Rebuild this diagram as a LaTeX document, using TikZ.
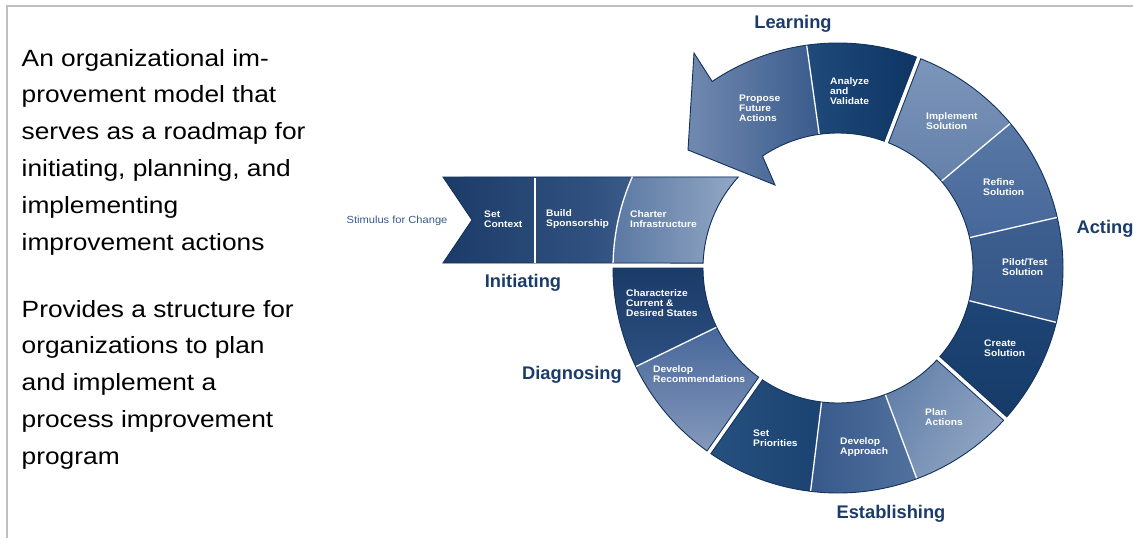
\documentclass[tikz,border=0pt]{standalone}
\usepackage{fontspec}
\setmainfont{Liberation Sans}
\newfontfamily\bodyfont{Liberation Sans}[FakeStretch=1.12]
\newfontfamily\labfont{Liberation Sans}[FakeStretch=1.08]
\definecolor{navyline}{HTML}{12315C}
\definecolor{phasecol}{HTML}{1B3C6B}
\definecolor{stimcol}{HTML}{35588A}
\definecolor{framecol}{HTML}{BFBFBF}
\definecolor{bandA}{HTML}{1C3B68}
\definecolor{bandB}{HTML}{30517F}
\definecolor{bandC}{HTML}{5676A1}
\definecolor{chA}{HTML}{5A78A2}
\definecolor{chB}{HTML}{93A8C5}
\definecolor{caA}{HTML}{1B3B68}
\definecolor{caB}{HTML}{2D5081}
\definecolor{drA}{HTML}{46679A}
\definecolor{drB}{HTML}{8699BB}
\definecolor{spA}{HTML}{26507F}
\definecolor{spB}{HTML}{1B4372}
\definecolor{daA}{HTML}{37598A}
\definecolor{daB}{HTML}{52719D}
\definecolor{paA}{HTML}{6481AA}
\definecolor{paB}{HTML}{93A7C5}
\definecolor{crA}{HTML}{1D4575}
\definecolor{crB}{HTML}{163B69}
\definecolor{ptA}{HTML}{3D5F8F}
\definecolor{ptB}{HTML}{335688}
\definecolor{rfA}{HTML}{5878A5}
\definecolor{rfB}{HTML}{46679A}
\definecolor{imA}{HTML}{7C95BA}
\definecolor{imB}{HTML}{6581AA}
\definecolor{avA}{HTML}{1F4A7A}
\definecolor{avB}{HTML}{0E3564}
\definecolor{pfA}{HTML}{7189B0}
\definecolor{pfB}{HTML}{395B8C}
\newcommand{\annsec}[2]{(#1:135) arc[start angle=#1,end angle=#2,radius=135] -- (#2:225) arc[start angle=#2,end angle=#1,radius=225] -- cycle}
\newcommand{\bandpath}{(-395,91) -- (137.6:135) arc[start angle=137.6,end angle=177.9,radius=135] -- (-395,5) -- (-366,48) -- cycle}
\begin{document}
\begin{tikzpicture}[x=1pt,y=1pt,
  seglabel/.style={text=white,font=\labfont\bfseries\fontsize{9.5}{10}\selectfont,align=left,anchor=west,inner sep=0},
  phase/.style={text=phasecol,font=\bfseries\fontsize{18.3}{20}\selectfont,inner sep=0},
  body/.style={anchor=base west,inner sep=0,font=\bodyfont\fontsize{23.5}{28}\selectfont},
  outline/.style={draw=navyline,line width=0.9},
  thinsep/.style={white,line width=1.3},
  gapdark/.style={navyline,line width=5.5},
  gapwhite/.style={white,line width=3.5},
  frameline/.style={framecol,line width=2}]
\useasboundingbox (0,-538) rectangle (1133,0);
% frame
\draw[frameline] (6,-5.5) -- (1133,-5.5);
\draw[frameline] (7,-4.5) -- (7,-538);
% left text
\node[body] (t1) at (21.5,-66) {An organizational im-};
\node[body] (t2) at (21.5,-102.8) {provement model that};
\node[body] (t3) at (21.5,-139.6) {serves as a roadmap for};
\node[body] (t4) at (21.5,-176.4) {initiating, planning, and};
\node[body] (t5) at (21.5,-213.2) {implementing};
\node[body] (t6) at (21.5,-250) {improvement actions};
\node[body] (t7) at (21.5,-317) {Provides a structure for};
\node[body] (t8) at (21.5,-353.8) {organizations to plan};
\node[body] (t9) at (21.5,-390.6) {and implement a};
\node[body] (t10) at (21.5,-427.4) {process improvement};
\node[body] (t11) at (21.5,-464.2) {program};
\begin{scope}[shift={(838,-268)}]
  % initiating band
  \shade[left color=bandA,right color=bandC,middle color=bandB] \bandpath;
  \begin{scope}
    \clip \bandpath;
    \clip (0,0) circle[radius=225];
    \shade[left color=chA,right color=chB] (-226,4) rectangle (-99,92);
  \end{scope}
  \draw[outline] \bandpath;
  \draw[thinsep] (-303,5.5) -- (-303,90.5);
  \draw[thinsep] (156:225) arc[start angle=156,end angle=178.7,radius=225];
  % ring segments
  \shade[top color=caA,bottom color=caB] \annsec{180}{206};
  \shade[top color=drA,bottom color=drB] \annsec{206}{235};
  \shade[left color=spA,right color=spB] \annsec{235}{263};
  \shade[left color=daA,right color=daB] \annsec{263}{290.5};
  \shade[left color=paA,right color=paB,shading angle=60] \annsec{290.5}{318};
  \shade[top color=crA,bottom color=crB] \annsec{318}{346};
  \shade[top color=ptA,bottom color=ptB] \annsec{346}{373};
  \shade[top color=rfA,bottom color=rfB] \annsec{373}{400};
  \shade[top color=imA,bottom color=imB] \annsec{400}{429};
  \shade[left color=avA,right color=avB] \annsec{69}{98};
  \shade[left color=pfA,right color=pfB] (98:135) arc[start angle=98,end angle=124,radius=135] -- (-63,83) -- (-150,118) -- (-144,215) -- (124:225) arc[start angle=124,end angle=98,radius=225] -- cycle;
  % phase outlines
  \draw[outline] \annsec{180}{235};
  \draw[outline] \annsec{235}{318};
  \draw[outline] \annsec{318}{429};
  \draw[outline] (69:135) arc[start angle=69,end angle=124,radius=135] -- (-63,83) -- (-150,118) -- (-144,215) -- (124:225) arc[start angle=124,end angle=69,radius=225] -- cycle;
  % thin separators
  \foreach \a in {98,206,263,290.5,346,373,400}
    \draw[thinsep] (\a:135.5) -- (\a:224.5);
  % phase gaps
  \foreach \a in {235,318,69}{
    \draw[gapdark] (\a:135) -- (\a:225);
    \draw[gapwhite] (\a:133) -- (\a:227);
  }
\end{scope}
% segment labels
\node[seglabel] (propose) at (739,-108) {Propose\\Future\\Actions};
\node[seglabel] (analyze) at (830,-91) {Analyze\\and\\Validate};
\node[seglabel] (implement) at (926,-121) {Implement\\Solution};
\node[seglabel] (refine) at (983,-187) {Refine\\Solution};
\node[seglabel] (pilot) at (1002,-267) {Pilot/Test\\Solution};
\node[seglabel] (create) at (984,-348) {Create\\Solution};
\node[seglabel] (plan) at (925,-417) {Plan\\Actions};
\node[seglabel] (devapp) at (840,-447) {Develop\\Approach};
\node[seglabel] (setpri) at (753,-438) {Set\\Priorities};
\node[seglabel] (devrec) at (653,-374) {Develop\\Recommendations};
\node[seglabel] (charact) at (626,-303) {Characterize\\Current \&\\Desired States};
\node[seglabel] (setctx) at (484,-219) {Set\\Context};
\node[seglabel] (build) at (546,-219) {Build\\Sponsorship};
\node[seglabel] (charter) at (630,-219) {Charter\\Infrastructure};
\node[text=stimcol,font=\labfont\fontsize{10.3}{12}\selectfont,inner sep=0] (stim) at (397,-221) {Stimulus for Change};
% phase labels
\node[phase] (learning) at (793,-24) {Learning};
\node[phase] (acting) at (1105,-229) {Acting};
\node[phase] (initiating) at (523,-283) {Initiating};
\node[phase] (diagnosing) at (572,-375) {Diagnosing};
\node[phase] (establishing) at (891,-514) {Establishing};
\end{tikzpicture}
\end{document}
